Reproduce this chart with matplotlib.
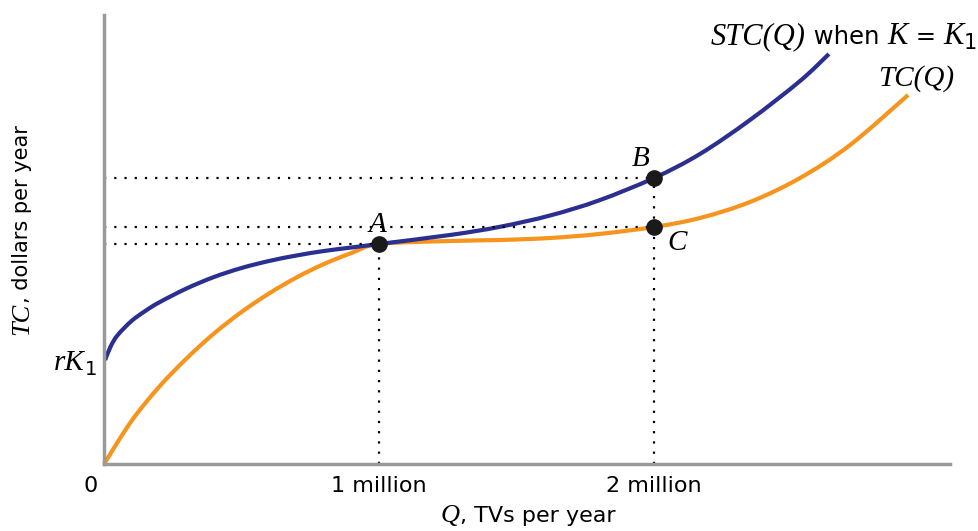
import matplotlib.pyplot as plt
from matplotlib.path import Path
from matplotlib.patches import PathPatch
from matplotlib.transforms import IdentityTransform

plt.rcParams['font.family'] = ['DejaVu Sans']

# Q in millions of TVs, cost in arbitrary dollar units
tc_q = [0.0, 0.1, 0.2, 0.3, 0.4, 0.5, 0.6, 0.7, 0.8, 0.9, 1.0,
        1.258, 1.44, 1.622, 1.8, 2.0, 2.167, 2.349, 2.531, 2.713, 2.924]
tc_y = [0.0, 0.43, 0.77, 1.055, 1.305, 1.52, 1.705, 1.865, 2.00, 2.11, 2.20,
        2.23, 2.24, 2.26, 2.30, 2.37, 2.46, 2.62, 2.86, 3.19, 3.69]

stc_q = [0.004, 0.025, 0.05, 0.1, 0.15, 0.2, 0.3, 0.4, 0.5, 0.6, 0.7, 0.8,
         0.9, 1.0, 1.258, 1.44, 1.622, 1.8, 2.0, 2.167, 2.349, 2.531, 2.636]
stc_y = [1.04, 1.18, 1.29, 1.43, 1.53, 1.615, 1.755, 1.87, 1.96, 2.03, 2.085,
         2.13, 2.165, 2.20, 2.29, 2.372, 2.485, 2.636, 2.86, 3.10, 3.44, 3.83, 4.10]

pt_names = ['A', 'B', 'C']
pt_q = [1.0, 2.0, 2.0]
pt_y = [2.20, 2.86, 2.37]

blue = '#2b2f8f'
orange = '#f7941d'
gray = '#9a9a9a'
W, H = 979, 531


def smooth(xs, ys):
    # catmull-rom through the read points, drawn as bezier segments
    n = len(xs)
    verts = [(xs[0], ys[0])]
    codes = [Path.MOVETO]
    for i in range(n - 1):
        a = max(i - 1, 0)
        b = min(i + 2, n - 1)
        c1 = (xs[i] + (xs[i + 1] - xs[a]) / 6, ys[i] + (ys[i + 1] - ys[a]) / 6)
        c2 = (xs[i + 1] - (xs[b] - xs[i]) / 6, ys[i + 1] - (ys[b] - ys[i]) / 6)
        verts += [c1, c2, (xs[i + 1], ys[i + 1])]
        codes += [Path.CURVE4] * 3
    return Path(verts, codes)


def label(parts, x, y, ha='left', vertical=False):
    # parts: (text, size, italic?, drop); x, y in pixels from top-left, y = baseline
    texts = []
    for s, size, it, drop in parts:
        t = fig.text(0, 0, s, fontsize=size,
                     family='Liberation Serif' if it else 'DejaVu Sans',
                     style='italic' if it else 'normal',
                     rotation=90 if vertical else 0, rotation_mode='anchor',
                     ha='left', va='baseline', transform=IdentityTransform())
        texts.append((t, drop))
    r = fig.canvas.get_renderer()
    ext = [t.get_window_extent(r) for t, _ in texts]
    lens = [e.height if vertical else e.width for e in ext]
    total = sum(lens)
    pos = {'left': 0, 'center': -total / 2, 'right': -total}[ha]
    for (t, drop), n in zip(texts, lens):
        if vertical:
            t.set_position((x + drop, (H - y) + pos))
        else:
            t.set_position((x + pos, (H - y) - drop))
        pos += n


fig = plt.figure(figsize=(9.79, 5.31), dpi=100)
ax = fig.add_axes([104 / W, 67 / H, 846 / W, 449 / H])
ax.set_xlim(0, 846 / 275)
ax.set_ylim(0, 4.49)

for s in ['top', 'right']:
    ax.spines[s].set_visible(False)
for s in ['left', 'bottom']:
    ax.spines[s].set_color(gray)
    ax.spines[s].set_linewidth(2.5)
ax.set_yticks([])
ax.set_xticks([1, 2])
ax.set_xticklabels(['1 million', '2 million'], fontsize=16)
ax.tick_params(axis='x', length=0, pad=9)

# dotted guide lines
dot = dict(color='black', linestyle=(0, (1, 3.6)), linewidth=1.6)
for q, y in zip(pt_q, pt_y):
    ax.plot([0, q], [y, y], **dot)
ax.plot([1, 1], [0, pt_y[0]], **dot)
ax.plot([2, 2], [0, pt_y[1]], **dot)

ax.add_patch(PathPatch(smooth(tc_q, tc_y), facecolor='none', edgecolor=orange,
                       linewidth=3, capstyle='butt', clip_on=False))
ax.add_patch(PathPatch(smooth(stc_q, stc_y), facecolor='none', edgecolor=blue,
                       linewidth=3, capstyle='butt', clip_on=False))
ax.plot(pt_q, pt_y, 'o', color='#1a1a1a', markersize=11, clip_on=False, zorder=5)

serif_it = dict(family='Liberation Serif', style='italic', fontsize=21,
                ha='center', va='center')
ax.text(0.995, 2.39, 'A', **serif_it)
ax.text(1.95, 3.05, 'B', **serif_it)
ax.text(2.085, 2.21, 'C', **serif_it)
ax.text(-0.05, -0.22, '0', fontsize=16, ha='center', va='center')

label([('STC(Q)', 22, True, 0), (' when ', 17.5, False, 0), ('K', 22, True, 0),
       (' = ', 17.5, False, 0), ('K', 22, True, 0), ('1', 15, False, 5)],
      977, 44, ha='right')
label([('TC(Q)', 21, True, 0)], 916, 86, ha='center')
label([('rK', 21, True, 0), ('1', 14, False, 5)], 97, 370, ha='right')
label([('Q', 19, True, 0), (', TVs per year', 16, False, 0)], 528, 522,
      ha='center')
label([('TC', 19, True, 0), (', dollars per year', 15, False, 0)], 28, 335,
      vertical=True)

fig.savefig('out.png', dpi=100)
